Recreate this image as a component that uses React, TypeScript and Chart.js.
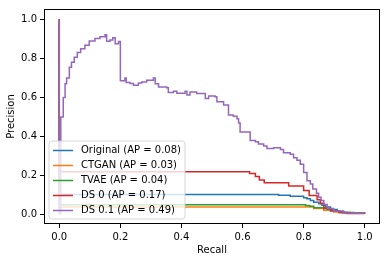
import React, { useEffect, useRef } from "react";
import { Chart, registerables } from "chart.js";

Chart.register(...registerables);

const seriesLabels = [
  "Original (AP = 0.08)",
  "CTGAN (AP = 0.03)",
  "TVAE (AP = 0.04)",
  "DS 0 (AP = 0.17)",
  "DS 0.1 (AP = 0.49)",
];
const seriesColors = ["#1f77b4", "#ff7f0e", "#2ca02c", "#d62728", "#9467bd"];

const originalRecall = [0, 0, 0.718, 0.756, 0.8, 0.811, 0.822, 0.833, 0.85, 0.86, 0.871, 0.888, 0.91, 0.931, 0.964, 1.0];
const originalPrecision = [1, 0.101, 0.098, 0.093, 0.085, 0.08, 0.071, 0.062, 0.054, 0.046, 0.037, 0.024, 0.015, 0.009, 0.005, 0.004];

const ctganRecall = [0, 0, 0.833, 0.866, 0.898, 0.93, 0.964, 1.0];
const ctganPrecision = [1, 0.037, 0.03, 0.02, 0.012, 0.007, 0.005, 0.004];

const tvaeRecall = [0, 0, 0.806, 0.82, 0.833, 0.877, 0.898, 0.92, 0.953, 1.0];
const tvaePrecision = [1, 0.049, 0.045, 0.041, 0.034, 0.024, 0.015, 0.009, 0.005, 0.004];

const ds0Recall = [0, 0, 0.623, 0.642, 0.655, 0.671, 0.751, 0.8, 0.818, 0.844, 0.855, 0.866, 0.888, 0.915, 0.942, 1.0];
const ds0Precision = [1, 0.218, 0.209, 0.194, 0.176, 0.162, 0.145, 0.122, 0.096, 0.075, 0.057, 0.029, 0.017, 0.009, 0.004, 0.004];

const ds01Recall = [
  0, 0, 0.005, 0.013, 0.019, 0.024, 0.033, 0.04, 0.049, 0.059, 0.07, 0.084, 0.098, 0.117, 0.133, 0.15,
  0.155, 0.166, 0.175, 0.183, 0.194, 0.2, 0.215, 0.219, 0.232, 0.243, 0.259, 0.27, 0.286, 0.308, 0.314,
  0.325, 0.352, 0.357, 0.374, 0.385, 0.412, 0.418, 0.428, 0.45, 0.478, 0.489, 0.51, 0.516, 0.538, 0.554,
  0.57, 0.582, 0.587, 0.592, 0.625, 0.642, 0.652, 0.669, 0.68, 0.702, 0.724, 0.734, 0.756, 0.767, 0.778,
  0.789, 0.8, 0.811, 0.822, 0.83, 0.842, 0.849, 0.857, 0.866, 0.877, 0.898, 0.93, 0.96, 1.0,
];
const ds01Precision = [
  1, 0.003, 0.5, 0.6, 0.67, 0.7, 0.755, 0.78, 0.806, 0.83, 0.85, 0.868, 0.89, 0.902, 0.912, 0.922,
  0.888, 0.895, 0.907, 0.875, 0.887, 0.686, 0.7, 0.676, 0.672, 0.662, 0.674, 0.679, 0.688, 0.7, 0.67,
  0.654, 0.649, 0.625, 0.632, 0.622, 0.632, 0.612, 0.628, 0.62, 0.595, 0.607, 0.603, 0.578, 0.561, 0.51,
  0.503, 0.49, 0.468, 0.422, 0.379, 0.372, 0.361, 0.35, 0.338, 0.341, 0.333, 0.316, 0.308, 0.29, 0.277,
  0.257, 0.214, 0.172, 0.156, 0.13, 0.108, 0.088, 0.071, 0.05, 0.029, 0.015, 0.007, 0.005, 0.004,
];

const xTicks = [0, 0.2, 0.4, 0.6, 0.8, 1.0];
const yTicks = [0, 0.2, 0.4, 0.6, 0.8, 1.0];
const xTitle = "Recall";
const yTitle = "Precision";

const FONT = "'DejaVu Sans', sans-serif";

function toPoints(r: number[], p: number[]) {
  return r.map((x, i) => ({ x, y: p[i] }));
}

const legendPlugin = {
  id: "boxLegendAndSpines",
  afterDatasetsDraw(chart: any) {
    const ctx = chart.ctx as CanvasRenderingContext2D;
    const { left, top, right, bottom } = chart.chartArea;
    ctx.save();
    // spines
    ctx.strokeStyle = "#000";
    ctx.lineWidth = 1;
    ctx.strokeRect(left + 0.5, top + 0.5, right - left - 1, bottom - top - 1);

    // legend
    ctx.font = `10px ${FONT}`;
    let maxW = 0;
    seriesLabels.forEach((l) => {
      maxW = Math.max(maxW, ctx.measureText(l).width);
    });
    const bx = left + 5;
    const bBottom = bottom - 5;
    const bh = 78;
    const by = bBottom - bh;
    const bw = 4 + 20 + 8 + maxW + 4;
    const rad = 3;
    ctx.beginPath();
    ctx.moveTo(bx + rad, by);
    ctx.lineTo(bx + bw - rad, by);
    ctx.arcTo(bx + bw, by, bx + bw, by + rad, rad);
    ctx.lineTo(bx + bw, by + bh - rad);
    ctx.arcTo(bx + bw, by + bh, bx + bw - rad, by + bh, rad);
    ctx.lineTo(bx + rad, by + bh);
    ctx.arcTo(bx, by + bh, bx, by + bh - rad, rad);
    ctx.lineTo(bx, by + rad);
    ctx.arcTo(bx, by, bx + rad, by, rad);
    ctx.closePath();
    ctx.fillStyle = "rgba(255,255,255,0.8)";
    ctx.fill();
    ctx.strokeStyle = "rgba(204,204,204,0.8)";
    ctx.lineWidth = 1;
    ctx.stroke();

    seriesLabels.forEach((label, i) => {
      const cy = by + 9.5 + i * 15;
      ctx.beginPath();
      ctx.moveTo(bx + 4, cy);
      ctx.lineTo(bx + 24, cy);
      ctx.strokeStyle = seriesColors[i];
      ctx.lineWidth = 1.5;
      ctx.stroke();
      ctx.fillStyle = "#000";
      ctx.textAlign = "left";
      ctx.textBaseline = "middle";
      ctx.fillText(label, bx + 32, cy);
    });
    ctx.restore();
  },
};

export default function App() {
  const ref = useRef<HTMLCanvasElement | null>(null);

  useEffect(() => {
    document.body.style.margin = "0";
    const canvas = ref.current;
    if (!canvas) return;
    const series = [
      toPoints(originalRecall, originalPrecision),
      toPoints(ctganRecall, ctganPrecision),
      toPoints(tvaeRecall, tvaePrecision),
      toPoints(ds0Recall, ds0Precision),
      toPoints(ds01Recall, ds01Precision),
    ];
    const tickFont = { family: FONT, size: 10 };
    const chart = new Chart(canvas, {
      type: "line",
      data: {
        datasets: series.map((data, i) => ({
          label: seriesLabels[i],
          data,
          borderColor: seriesColors[i],
          backgroundColor: seriesColors[i],
          borderWidth: 1.5,
          pointRadius: 0,
          stepped: true,
          fill: false,
          order: 5 - i,
        })),
      },
      options: {
        animation: false,
        responsive: false,
        devicePixelRatio: 1,
        layout: { padding: { top: 6, right: 6, left: 0, bottom: 0 } },
        plugins: { legend: { display: false }, tooltip: { enabled: false } },
        scales: {
          x: {
            type: "linear",
            min: -0.05,
            max: 1.05,
            afterBuildTicks: (s: any) => {
              s.ticks = xTicks.map((v) => ({ value: v }));
            },
            afterFit: (s: any) => {
              s.height = 38;
            },
            ticks: {
              callback: (v: any) => Number(v).toFixed(1),
              font: tickFont,
              color: "#000",
              padding: 3,
              maxRotation: 0,
              autoSkip: false,
            },
            grid: { drawOnChartArea: false, drawTicks: true, tickLength: 4, tickColor: "#000", lineWidth: 1 },
            border: { display: false },
            title: { display: true, text: xTitle, font: tickFont, color: "#000", padding: { top: 0, bottom: 6 } },
          },
          y: {
            type: "linear",
            min: -0.05,
            max: 1.054,
            afterBuildTicks: (s: any) => {
              s.ticks = yTicks.map((v) => ({ value: v }));
            },
            afterFit: (s: any) => {
              s.width = 44;
            },
            ticks: {
              callback: (v: any) => Number(v).toFixed(1),
              font: tickFont,
              color: "#000",
              padding: 3,
              autoSkip: false,
            },
            grid: { drawOnChartArea: false, drawTicks: true, tickLength: 4, tickColor: "#000", lineWidth: 1 },
            border: { display: false },
            title: { display: true, text: yTitle, font: tickFont, color: "#000", padding: { top: 5, bottom: 0 } },
          },
        },
      },
      plugins: [legendPlugin],
    } as any);
    return () => chart.destroy();
  }, []);

  return (
    <div style={{ position: "fixed", left: 0, top: 0, width: 386, height: 262, background: "#fff" }}>
      <canvas ref={ref} width={386} height={262} style={{ display: "block", width: 386, height: 262 }} />
    </div>
  );
}
